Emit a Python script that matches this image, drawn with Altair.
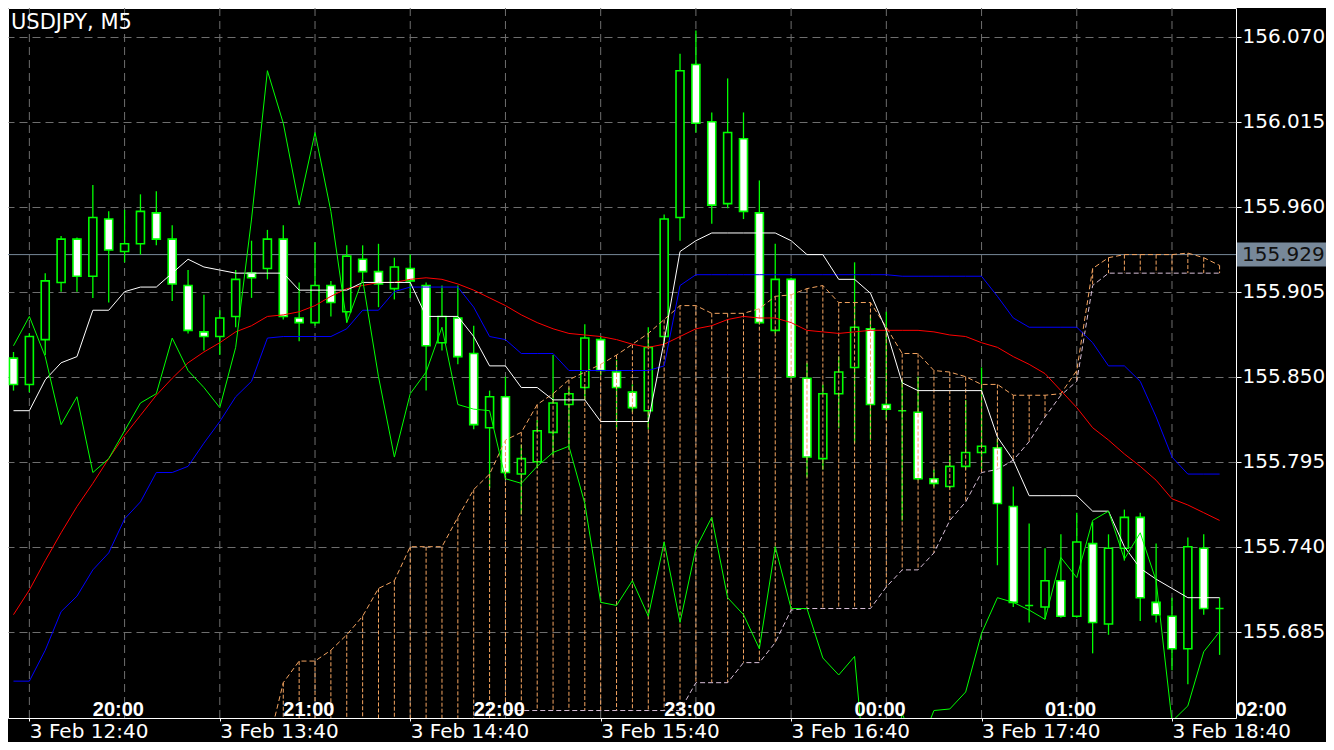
import altair as alt
import pandas as pd

# ---------------- data ----------------
bar_index = list(range(77))

open_ = [155.862, 155.845, 155.874, 155.911, 155.939, 155.915, 155.952, 155.931, 155.936, 155.956,
         155.939, 155.909, 155.879, 155.876, 155.889, 155.917, 155.920, 155.939, 155.888, 155.885,
         155.909, 155.892, 155.926, 155.918, 155.907, 155.920, 155.909, 155.872, 155.888, 155.865,
         155.817, 155.837, 155.787, 155.795, 155.814, 155.832, 155.843, 155.874, 155.853, 155.840,
         155.828, 155.876, 155.953, 156.052, 156.015, 155.962, 156.004, 155.956, 155.880, 155.913,
         155.849, 155.797, 155.839, 155.856, 155.881, 155.832, 155.828, 155.827, 155.784, 155.779,
         155.792, 155.801, 155.804, 155.766, 155.702, 155.701, 155.718, 155.695, 155.742, 155.690,
         155.739, 155.759, 155.704, 155.695, 155.674, 155.739, 155.700]

high_ = [155.866, 155.878, 155.917, 155.941, 155.940, 155.974, 155.957, 155.958, 155.968, 155.970,
         155.948, 155.919, 155.903, 155.893, 155.919, 155.938, 155.945, 155.948, 155.911, 155.937,
         155.912, 155.935, 155.935, 155.936, 155.927, 155.929, 155.911, 155.909, 155.909, 155.883,
         155.841, 155.850, 155.806, 155.822, 155.864, 155.843, 155.884, 155.876, 155.861, 155.845,
         155.882, 155.955, 156.059, 156.074, 156.021, 156.043, 156.021, 155.977, 155.936, 155.914,
         155.859, 155.845, 155.863, 155.924, 155.890, 155.892, 155.848, 155.850, 155.790, 155.799,
         155.835, 155.856, 155.810, 155.779, 155.755, 155.739, 155.748, 155.762, 155.756, 155.748,
         155.764, 155.762, 155.742, 155.707, 155.746, 155.748, 155.707]

low_ = [155.841, 155.840, 155.864, 155.905, 155.905, 155.901, 155.898, 155.924, 155.929, 155.935,
        155.899, 155.878, 155.867, 155.864, 155.882, 155.901, 155.913, 155.887, 155.873, 155.883,
        155.889, 155.885, 155.913, 155.895, 155.900, 155.901, 155.841, 155.867, 155.858, 155.816,
        155.778, 155.784, 155.761, 155.791, 155.799, 155.805, 155.835, 155.851, 155.816, 155.827,
        155.816, 155.871, 155.938, 156.008, 155.949, 155.959, 155.952, 155.884, 155.878, 155.849,
        155.785, 155.790, 155.817, 155.807, 155.809, 155.822, 155.757, 155.783, 155.779, 155.778,
        155.790, 155.790, 155.728, 155.701, 155.691, 155.693, 155.694, 155.694, 155.671, 155.683,
        155.731, 155.692, 155.691, 155.660, 155.651, 155.696, 155.670]

close_ = [155.845, 155.876, 155.912, 155.939, 155.915, 155.953, 155.932, 155.936, 155.957, 155.939,
          155.910, 155.880, 155.876, 155.888, 155.913, 155.914, 155.939, 155.889, 155.885, 155.909,
          155.898, 155.928, 155.918, 155.910, 155.921, 155.912, 155.870, 155.889, 155.863, 155.819,
          155.837, 155.788, 155.797, 155.815, 155.833, 155.839, 155.875, 155.854, 155.843, 155.830,
          155.869, 155.952, 156.048, 156.014, 155.961, 156.008, 155.957, 155.885, 155.913, 155.850,
          155.798, 155.839, 155.853, 155.882, 155.832, 155.829, 155.828, 155.784, 155.781, 155.792,
          155.801, 155.805, 155.768, 155.704, 155.702, 155.718, 155.695, 155.743, 155.691, 155.739,
          155.759, 155.707, 155.696, 155.674, 155.740, 155.700, 155.700]

tenkan = [155.828, 155.828, 155.848, 155.859, 155.863, 155.893, 155.893, 155.905, 155.908, 155.908,
          155.917, 155.926, 155.921, 155.919, 155.917, 155.917, 155.917, 155.917, 155.906, 155.906,
          155.906, 155.906, 155.911, 155.911, 155.911, 155.911, 155.889, 155.889, 155.889, 155.876,
          155.857, 155.857, 155.843, 155.843, 155.835, 155.835, 155.835, 155.821, 155.821, 155.821,
          155.821, 155.873, 155.931, 155.938, 155.943, 155.943, 155.943, 155.943, 155.943, 155.938,
          155.929, 155.929, 155.913, 155.913, 155.904, 155.880, 155.846, 155.841, 155.841, 155.841,
          155.841, 155.841, 155.811, 155.796, 155.773, 155.773, 155.773, 155.773, 155.763, 155.763,
          155.740, 155.726, 155.719, 155.713, 155.707, 155.707, 155.707]

kijun = [155.653, 155.653, 155.673, 155.698, 155.708, 155.725, 155.736, 155.758, 155.769, 155.788,
         155.788, 155.792, 155.807, 155.821, 155.837, 155.847, 155.875, 155.876, 155.876, 155.876,
         155.876, 155.881, 155.893, 155.893, 155.905, 155.908, 155.908, 155.908, 155.908, 155.895,
         155.876, 155.874, 155.865, 155.865, 155.865, 155.854, 155.854, 155.854, 155.854, 155.854,
         155.854, 155.857, 155.909, 155.916, 155.916, 155.916, 155.916, 155.916, 155.916, 155.916,
         155.916, 155.916, 155.916, 155.916, 155.916, 155.916, 155.915, 155.915, 155.915, 155.915,
         155.915, 155.915, 155.902, 155.888, 155.882, 155.882, 155.882, 155.882, 155.872, 155.857,
         155.857, 155.847, 155.824, 155.798, 155.787, 155.787, 155.787]

ma_red = [155.696, 155.712, 155.731, 155.749, 155.766, 155.781, 155.797, 155.812, 155.825, 155.838,
          155.849, 155.859, 155.866, 155.872, 155.879, 155.883, 155.889, 155.890, 155.892, 155.896,
          155.902, 155.907, 155.909, 155.911, 155.911, 155.913, 155.914, 155.913, 155.910, 155.906,
          155.901, 155.896, 155.890, 155.885, 155.881, 155.878, 155.877, 155.876, 155.874, 155.871,
          155.869, 155.871, 155.876, 155.881, 155.883, 155.887, 155.889, 155.888, 155.888, 155.885,
          155.880, 155.879, 155.878, 155.879, 155.880, 155.880, 155.880, 155.880, 155.879, 155.877,
          155.876, 155.872, 155.869, 155.863, 155.858, 155.852, 155.841, 155.830, 155.817, 155.809,
          155.800, 155.792, 155.783, 155.771, 155.767, 155.762, 155.757]

chikou = [155.870, 155.889, 155.863, 155.819, 155.837, 155.788, 155.797, 155.815, 155.833, 155.839,
          155.875, 155.854, 155.843, 155.830, 155.869, 155.952, 156.048, 156.014, 155.961, 156.008,
          155.957, 155.885, 155.913, 155.850, 155.798, 155.839, 155.853, 155.882, 155.832, 155.829,
          155.828, 155.784, 155.781, 155.792, 155.801, 155.805, 155.768, 155.704, 155.702, 155.718,
          155.695, 155.743, 155.691, 155.739, 155.759, 155.707, 155.696, 155.674, 155.740, 155.700,
          155.700, 155.668, 155.657, 155.669, 155.557, 155.583, 155.632, 155.608, 155.634, 155.635,
          155.646, 155.684, 155.707, 155.704, 155.699, 155.693, 155.733, 155.720, 155.757, 155.763,
          155.732, 155.749, 155.718, 155.627, 155.637, 155.672, 155.685]

span_a = [None] * 16 + [
    155.610, 155.652, 155.666, 155.666, 155.673, 155.683, 155.695, 155.713, 155.718, 155.740,
    155.740, 155.740, 155.759, 155.777, 155.787, 155.809, 155.814, 155.832, 155.839, 155.848,
    155.853, 155.858, 155.864, 155.871, 155.878, 155.887, 155.896, 155.896, 155.891, 155.891,
    155.891, 155.894, 155.902, 155.903, 155.907, 155.909, 155.898, 155.898, 155.898, 155.882,
    155.865, 155.865, 155.854, 155.853, 155.850, 155.845, 155.845, 155.838, 155.838, 155.838,
    155.839, 155.854, 155.920, 155.927, 155.929, 155.929, 155.929, 155.929, 155.930, 155.927,
    155.922]

span_b = [None] * 17 + [155.600] * 14 + [155.634] * 12 + [
    155.652, 155.652, 155.652, 155.665, 155.665, 155.678, 155.699, 155.700, 155.700, 155.700,
    155.700, 155.700, 155.714, 155.725, 155.725, 155.736, 155.757, 155.769, 155.788, 155.790,
    155.796, 155.808, 155.824, 155.838, 155.847, 155.909] + [155.917] * 8

price_ticks = [156.070, 156.015, 155.960, 155.905, 155.850, 155.795, 155.740, 155.685]
time_ticks = [1, 13, 25, 37, 49, 61, 73]
time_labels = ["3 Feb 12:40", "3 Feb 13:40", "3 Feb 14:40", "3 Feb 15:40",
               "3 Feb 16:40", "3 Feb 17:40", "3 Feb 18:40"]
grid_bars = [1, 7, 13, 19, 25, 31, 37, 43, 49, 55, 61, 67, 73]
local_ticks = [5, 17, 29, 41, 53, 65, 77]
local_labels = ["20:00", "21:00", "22:00", "23:00", "00:00", "01:00", "02:00"]
last_price = [155.929]
symbol = ["USDJPY, M5"]

# ---------------- tables ----------------
df = pd.DataFrame(dict(i=bar_index, o=open_, h=high_, l=low_, c=close_,
                       tenkan=tenkan, kijun=kijun, ma=ma_red, chikou=chikou,
                       sa=span_a, sb=span_b))
df["dir"] = ["up" if c >= o else "down" for o, c in zip(open_, close_)]
grid_df = pd.DataFrame({"g": grid_bars})
local_df = pd.DataFrame({"k": local_ticks, "t": local_labels})
last_df = pd.DataFrame({"p": last_price})
title_df = pd.DataFrame({"t": symbol})

# ---------------- scales / axes ----------------
W, H = 1228, 710
xs = alt.Scale(domain=[-0.03125, 76.71875], nice=False, zero=False)
ys = alt.Scale(domain=[155.62916, 156.08857], nice=False, zero=False)

lab_arr = "[" + ",".join("'" + t + "'" for t in time_labels) + "]"
pos_arr = "[" + ",".join(str(v) for v in time_ticks) + "]"
x_axis = alt.Axis(values=time_ticks, labelExpr=f"{lab_arr}[indexof({pos_arr}, datum.value)]",
                  title=None, grid=False, domain=False, ticks=True, tickSize=3,
                  tickColor="#ffffff", labelColor="#ffffff", labelFont="DejaVu Sans",
                  labelFontSize=20, labelAlign="left", labelBaseline="top",
                  labelPadding=0, labelFlush=False, labelOverlap=False)
y_axis = alt.Axis(values=price_ticks, format=".3f", orient="right", title=None,
                  grid=True, gridColor="#6e6e6e", gridDash=[8, 5], gridWidth=1,
                  domain=False, ticks=True, tickSize=5, tickColor="#ffffff",
                  labelColor="#ffffff", labelFont="DejaVu Sans", labelFontSize=20,
                  labelPadding=1, labelBaseline="middle", labelAlign="left",
                  labelOverlap=False, labelFlush=False)


def X(f):
    return alt.X(f"{f}:Q", scale=xs, axis=x_axis)


def Y(f):
    return alt.Y(f"{f}:Q", scale=ys, axis=y_axis)


base = alt.Chart(df)

vgrid = alt.Chart(grid_df).mark_rule(color="#6e6e6e", strokeDash=[8, 5], strokeWidth=1).encode(x=X("g"))
price_line = alt.Chart(last_df).mark_rule(color="#778899", strokeWidth=1).encode(y=Y("p"))
wicks = base.mark_rule(color="#00ff00", strokeWidth=1.3, clip=True).encode(x=X("i"), y=Y("l"), y2="h:Q")
bodies = base.mark_bar(width=8, stroke="#00ff00", strokeWidth=1.6, clip=True).encode(
    x=X("i"), y=Y("o"), y2="c:Q",
    fill=alt.Fill("dir:N", scale=alt.Scale(domain=["up", "down"], range=["#000000", "#ffffff"]), legend=None))
hatch = base.transform_filter("isValid(datum.sa) && isValid(datum.sb)").mark_rule(
    color="#f4a460", strokeDash=[4, 2], strokeWidth=1, clip=True).encode(x=X("i"), y=Y("sa"), y2="sb:Q")
line_b = base.mark_line(color="#d8bfd8", strokeDash=[5, 3], strokeWidth=1, clip=True).encode(x=X("i"), y=Y("sb"))
line_a = base.mark_line(color="#f4a460", strokeDash=[5, 3], strokeWidth=1, clip=True).encode(x=X("i"), y=Y("sa"))
red = base.mark_line(color="#ff0000", strokeWidth=1, clip=True).encode(x=X("i"), y=Y("ma"))
blue = base.mark_line(color="#0000ff", strokeWidth=1, clip=True).encode(x=X("i"), y=Y("kijun"))
white = base.mark_line(color="#ffffff", strokeWidth=1, clip=True).encode(x=X("i"), y=Y("tenkan"))
green = base.mark_line(color="#00ff00", strokeWidth=1, clip=True).encode(x=X("i"), y=Y("chikou"))

box = alt.Chart(last_df).mark_rule(color="#778899", strokeWidth=24, strokeCap="butt").encode(
    y=Y("p"), x=alt.value(W + 1), x2=alt.value(W + 90))
box_text = alt.Chart(last_df).mark_text(align="left", baseline="middle", font="DejaVu Sans",
                                        fontSize=20, color="#111111").encode(
    y=Y("p"), x=alt.value(W + 6), text=alt.Text("p:Q", format=".3f"))
local_text = alt.Chart(local_df).mark_text(align="left", baseline="alphabetic", font="Liberation Sans",
                                           fontWeight="bold", fontSize=20, color="#ffffff").encode(
    x=X("k"), y=alt.value(708), text="t:N")
title_text = alt.Chart(title_df).mark_text(align="left", baseline="alphabetic", font="DejaVu Sans",
                                           fontSize=21, color="#ffffff").encode(
    x=alt.value(3), y=alt.value(21), text="t:N")

chart = alt.layer(
    vgrid, price_line, wicks, bodies, hatch, line_b, line_a, red, blue, white, green,
    box, box_text, local_text, title_text
).properties(
    width=W, height=H,
    padding={"left": 0, "top": 0, "right": 90, "bottom": 24},
    autosize=alt.AutoSizeParams(type="none"),
    background="#000000",
).configure_view(stroke="#ffffff", strokeWidth=1)

chart.save("out.html", embed_options={"renderer": "svg", "actions": False})
